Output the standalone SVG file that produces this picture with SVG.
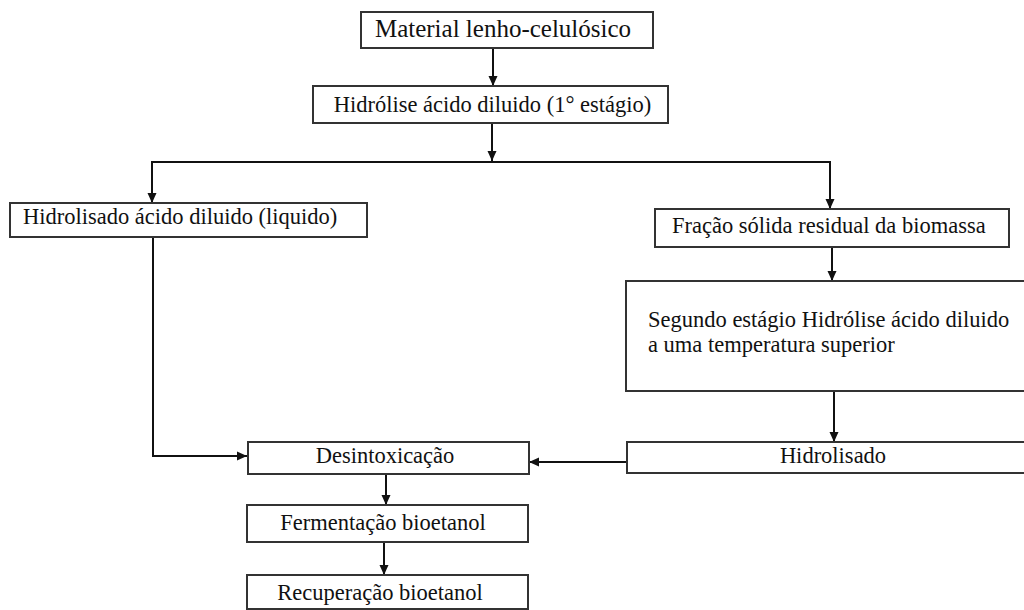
<svg xmlns="http://www.w3.org/2000/svg" width="1024" height="610" viewBox="0 0 1024 610">
<style>
.box{fill:#fff;stroke:#333;stroke-width:2}
.t{font-family:"Liberation Serif","Times New Roman",serif;font-size:22.5px;fill:#111}
.c{text-anchor:middle}
.ln{fill:none;stroke:#111;stroke-width:2}
</style>
<defs>
<marker id="ah" markerUnits="userSpaceOnUse" markerWidth="10" markerHeight="10" refX="10" refY="5" orient="auto">
<path d="M0,0.5 L10,5 L0,9.5 Z" fill="#111"/>
</marker>
</defs>
<rect width="1024" height="610" fill="#fff"/>
<g id="connectors">
<line class="ln" x1="493" y1="48" x2="493" y2="86" marker-end="url(#ah)"/>
<line class="ln" x1="492" y1="123" x2="492" y2="161" marker-end="url(#ah)"/>
<line class="ln" x1="151" y1="162" x2="831" y2="162"/>
<line class="ln" x1="152" y1="162" x2="152" y2="203" marker-end="url(#ah)"/>
<line class="ln" x1="830" y1="162" x2="830" y2="209" marker-end="url(#ah)"/>
<polyline class="ln" points="153,237 153,456 247,456" marker-end="url(#ah)"/>
<line class="ln" x1="832" y1="247" x2="832" y2="281" marker-end="url(#ah)"/>
<line class="ln" x1="834" y1="391" x2="834" y2="442" marker-end="url(#ah)"/>
<line class="ln" x1="627" y1="462" x2="529" y2="462" marker-end="url(#ah)"/>
<line class="ln" x1="386" y1="474" x2="386" y2="505" marker-end="url(#ah)"/>
<line class="ln" x1="384" y1="542" x2="384" y2="575" marker-end="url(#ah)"/>
</g>
<g id="n1"><rect class="box" x="361" y="12" width="292" height="36"/><text class="t c" x="503" y="37" style="font-size:25px">Material lenho-celulósico</text></g>
<g id="n2"><rect class="box" x="313" y="86" width="355" height="37"/><text class="t c" x="492.5" y="112">Hidrólise ácido diluido (1° estágio)</text></g>
<g id="n3"><rect class="box" x="10" y="203" width="357" height="34"/><text class="t" x="23" y="224">Hidrolisado ácido diluido (liquido)</text></g>
<g id="n4"><rect class="box" x="655" y="209" width="354" height="38"/><text class="t" x="672" y="233">Fração sólida residual da biomassa</text></g>
<g id="n5"><rect class="box" x="626" y="281" width="410" height="110"/><text class="t" x="648" y="327">Segundo estágio Hidrólise ácido diluido</text><text class="t" x="648" y="352">a uma temperatura superior</text></g>
<g id="n6"><rect class="box" x="627" y="442" width="410" height="31"/><text class="t c" x="833" y="463">Hidrolisado</text></g>
<g id="n7"><rect class="box" x="248" y="442" width="281" height="32"/><text class="t c" x="385" y="463">Desintoxicação</text></g>
<g id="n8"><rect class="box" x="247" y="505" width="281" height="37"/><text class="t c" x="383" y="530">Fermentação bioetanol</text></g>
<g id="n9"><rect class="box" x="247" y="575" width="281" height="34"/><text class="t c" x="380" y="600">Recuperação bioetanol</text></g>
</svg>
